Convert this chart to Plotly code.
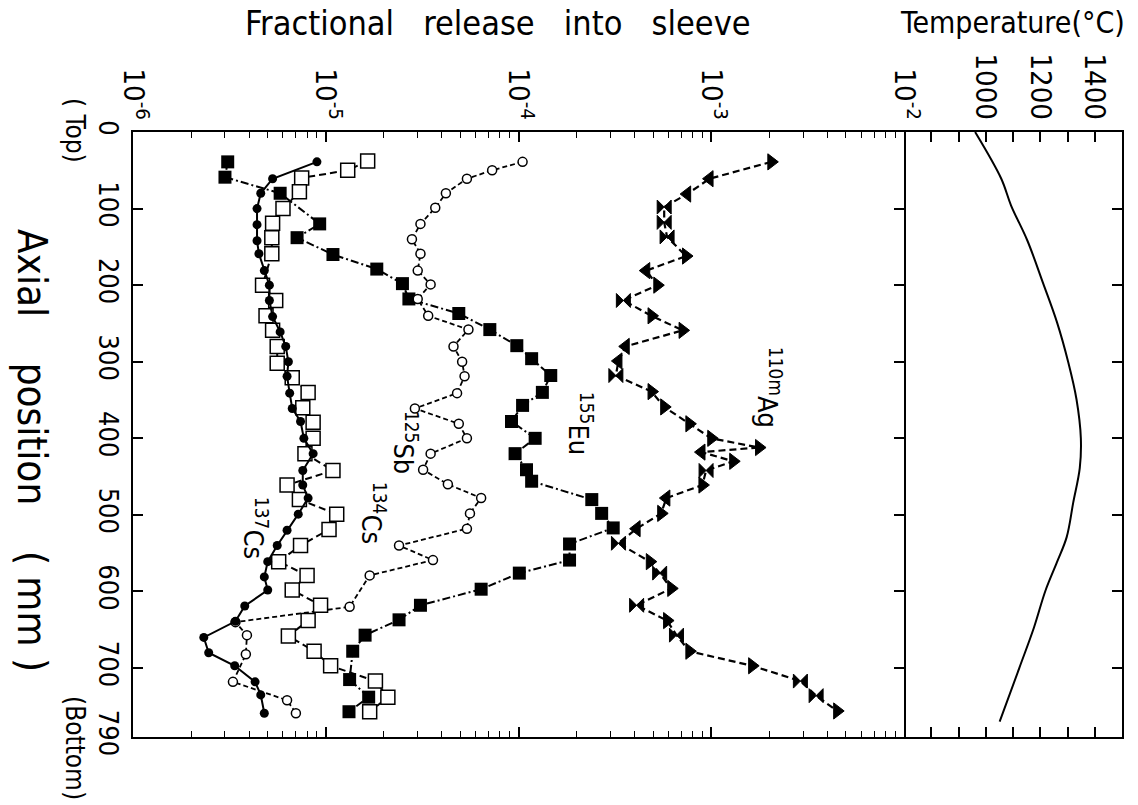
import plotly.graph_objects as go

# ---------------- data ----------------
cs137_pos = [39, 61, 80, 100, 121, 142, 159, 181, 200, 220, 241, 261, 280, 300, 319, 341, 361, 378, 400, 420,
             442, 461, 478, 499, 520, 540, 561, 581, 598, 619, 639, 660, 680, 697, 718, 735, 759]
cs137_val = [9.0e-6, 5.3e-6, 4.6e-6, 4.4e-6, 4.4e-6, 4.4e-6, 4.5e-6, 4.8e-6, 5.1e-6, 5.1e-6, 5.3e-6, 5.8e-6,
             6.2e-6, 6.4e-6, 6.3e-6, 6.5e-6, 6.7e-6, 7.4e-6, 7.7e-6, 8.6e-6, 7.6e-6, 7.6e-6, 8.1e-6, 7.2e-6,
             6.3e-6, 5.6e-6, 5.0e-6, 4.8e-6, 5.0e-6, 3.8e-6, 3.4e-6, 2.33e-6, 2.47e-6, 3.37e-6, 4.3e-6, 4.6e-6, 4.8e-6]

cs134_pos = [38, 50, 60, 78, 100, 119, 138, 159, 200, 220, 240, 259, 280, 302, 321, 340, 360, 379, 400, 420,
             442, 461, 480, 499, 519, 540, 561, 579, 598, 618, 638, 658, 678, 697, 717, 738, 757]
cs134_val = [1.65e-5, 1.30e-5, 7.5e-6, 7.3e-6, 6.0e-6, 5.3e-6, 5.25e-6, 5.25e-6, 4.7e-6, 5.5e-6, 4.9e-6, 5.3e-6,
             5.6e-6, 5.6e-6, 6.7e-6, 8.1e-6, 7.6e-6, 8.6e-6, 8.6e-6, 7.8e-6, 1.09e-5, 6.3e-6, 7.3e-6, 1.14e-5,
             1.04e-5, 7.4e-6, 5.7e-6, 8.0e-6, 6.7e-6, 9.4e-6, 8.1e-6, 6.4e-6, 8.7e-6, 1.06e-5, 1.81e-5, 2.1e-5, 1.69e-5]

sb125_pos = [39, 50, 61, 80, 99, 120, 140, 159, 181, 199, 218, 240, 258, 280, 300, 319, 341, 361, 381, 400,
             420, 441, 460, 478, 498, 518, 540, 559, 579, 620, 640, 657, 682, 718, 742, 759]
sb125_val = [1.05e-4, 7.3e-5, 5.4e-5, 4.2e-5, 3.7e-5, 3.1e-5, 2.8e-5, 3.1e-5, 3.0e-5, 3.5e-5, 3.0e-5, 3.4e-5,
             5.5e-5, 4.6e-5, 5.1e-5, 5.25e-5, 4.8e-5, 2.9e-5, 4.9e-5, 5.4e-5, 3.5e-5, 3.2e-5, 4.3e-5, 6.4e-5,
             5.6e-5, 5.4e-5, 2.4e-5, 3.6e-5, 1.69e-5, 1.33e-5, 3.4e-6, 3.9e-6, 3.85e-6, 3.3e-6, 6.3e-6, 7.0e-6]

eu155_pos = [39, 59, 80, 120, 138, 160, 179, 198, 218, 237, 258, 279, 296, 318, 340, 357, 378, 400, 420, 441,
             456, 480, 498, 517, 538, 559, 576, 597, 618, 637, 657, 678, 715, 738, 757]
eu155_val = [3.1e-6, 3.0e-6, 5.8e-6, 9.3e-6, 7.1e-6, 1.09e-5, 1.84e-5, 2.5e-5, 2.7e-5, 4.9e-5, 7.1e-5, 9.8e-5,
             1.17e-4, 1.47e-4, 1.33e-4, 1.05e-4, 9.2e-5, 1.22e-4, 9.6e-5, 1.1e-4, 1.17e-4, 2.4e-4, 2.7e-4,
             3.1e-4, 1.84e-4, 1.84e-4, 1.01e-4, 6.4e-5, 3.1e-5, 2.4e-5, 1.6e-5, 1.38e-5, 1.33e-5, 1.67e-5, 1.32e-5]

ag110m_pos = [39, 61, 81, 98, 118, 137, 162, 181, 200, 220, 240, 259, 280, 299, 318, 339, 359, 381, 400, 412,
              418, 430, 442, 461, 478, 498, 518, 537, 561, 576, 596, 618, 638, 657, 678, 697, 717, 736, 756]
ag110m_val = [2.05e-3, 9.8e-4, 7.5e-4, 5.7e-4, 5.7e-4, 5.9e-4, 7.4e-4, 4.6e-4, 5.25e-4, 3.5e-4, 4.9e-4, 7.1e-4,
              3.6e-4, 3.3e-4, 3.2e-4, 4.9e-4, 5.7e-4, 7.7e-4, 1.0e-3, 1.77e-3, 8.9e-4, 1.3e-3, 9.4e-4, 9.0e-4,
              5.85e-4, 5.5e-4, 4.1e-4, 3.3e-4, 4.8e-4, 5.4e-4, 6.2e-4, 4.1e-4, 5.9e-4, 6.6e-4, 7.7e-4, 1.63e-3,
              2.9e-3, 3.5e-3, 4.5e-3]

temp_pos = [0, 61, 96, 142, 198, 248, 301, 349, 400, 439, 484, 529, 562, 599, 647, 700, 770]
temp_val = [961, 1057, 1093, 1153, 1211, 1261, 1303, 1333, 1349, 1345, 1321, 1297, 1261, 1219, 1177, 1123, 1051]

release_ticks = [1e-6, 1e-5, 1e-4, 1e-3, 1e-2]
release_ticktext = ["10<sup>-6</sup>", "10<sup>-5</sup>", "10<sup>-4</sup>", "10<sup>-3</sup>", "10<sup>-2</sup>"]
pos_ticks = [0, 100, 200, 300, 400, 500, 600, 700, 790]
temp_ticks = [1000, 1200, 1400]
temp_minor_ticks = [800, 900, 1100, 1300]

# ---------------- styles ----------------
FONT = "DejaVu Sans Condensed, Liberation Sans Narrow, sans-serif"
ag_symbols = ["triangle-right", "triangle-left", "triangle-left", "bowtie", "bowtie", "bowtie", "triangle-right",
              "triangle-left", "triangle-right", "bowtie", "triangle-right", "triangle-right", "triangle-left",
              "triangle-left", "bowtie", "triangle-right", "triangle-right", "triangle-right", "triangle-right",
              "triangle-right", "triangle-left", "triangle-right", "bowtie", "triangle-right", "triangle-left",
              "triangle-right", "triangle-left", "bowtie", "triangle-right", "bowtie", "triangle-right", "bowtie",
              "triangle-right", "bowtie", "triangle-right", "triangle-right", "bowtie", "bowtie", "triangle-right"]

minor_vals = [m * 10.0 ** e for e in range(-6, -2) for m in range(2, 10)]

fig = go.Figure()

fig.add_trace(go.Scatter(x=ag110m_val, y=ag110m_pos, mode="lines+markers",
                         line=dict(color="black", width=2.2, dash="7px,4px"),
                         marker=dict(symbol=ag_symbols, size=14, color="black",
                                     line=dict(color="black", width=1))))
fig.add_trace(go.Scatter(x=eu155_val, y=eu155_pos, mode="lines+markers",
                         line=dict(color="black", width=2, dash="8px,3px,2px,3px"),
                         marker=dict(symbol="square", size=13, color="black")))
fig.add_trace(go.Scatter(x=sb125_val, y=sb125_pos, mode="lines+markers",
                         line=dict(color="black", width=1.8, dash="5px,3px"),
                         marker=dict(symbol="circle", size=9, color="white",
                                     line=dict(color="black", width=1.5))))
fig.add_trace(go.Scatter(x=cs134_val, y=cs134_pos, mode="lines+markers",
                         line=dict(color="black", width=2, dash="7px,4px"),
                         marker=dict(symbol="square", size=14, color="white",
                                     line=dict(color="black", width=1.5))))
fig.add_trace(go.Scatter(x=cs137_val, y=cs137_pos, mode="lines+markers",
                         line=dict(color="black", width=2),
                         marker=dict(symbol="circle", size=9, color="black")))
fig.add_trace(go.Scatter(x=temp_val, y=temp_pos, mode="lines", xaxis="x2", yaxis="y2",
                         line=dict(color="black", width=2, shape="spline")))

L, R, T, B = 133, 16, 132, 68
split = (904 - L) / (1138 - L - R)

axis_common = dict(showline=True, linecolor="black", linewidth=2, showgrid=False, zeroline=False,
                   ticks="inside", tickcolor="black", tickwidth=1.5, ticklen=10, automargin=False)

fig.update_layout(
    width=1138, height=805,
    margin=dict(l=L, r=R, t=T, b=B, autoexpand=False),
    paper_bgcolor="white", plot_bgcolor="white",
    showlegend=False,
    font=dict(family=FONT, color="black", size=26),
    xaxis=dict(type="log", range=[-6, -2], domain=[0, split], side="top", anchor="y", mirror="ticks",
               tickvals=release_ticks, ticktext=release_ticktext, tickangle=90,
               tickfont=dict(size=29),
               minor=dict(ticks="inside", tickvals=minor_vals, ticklen=6, tickcolor="black",
                          tickwidth=1.3, showgrid=False),
               **axis_common),
    yaxis=dict(range=[790, 0], domain=[0, 1], anchor="x", mirror="ticks", tickvals=pos_ticks,
               tickangle=90, tickfont=dict(size=27), **axis_common),
    xaxis2=dict(range=[700, 1500], domain=[split, 1], side="top", anchor="y2", mirror="ticks",
                tickvals=temp_ticks, tickangle=90, tickfont=dict(size=29),
                minor=dict(ticks="inside", tickvals=temp_minor_ticks, ticklen=10, tickcolor="black",
                           tickwidth=1.5, showgrid=False),
                **axis_common),
    yaxis2=dict(range=[790, 0], domain=[0, 1], anchor="x2", side="right", showticklabels=False,
                tickvals=[100, 200, 300, 400, 500, 600, 700], **axis_common),
)

W_PLOT = 1138 - L - R
H_PLOT = 805 - T - B


def px(xp):
    return (xp - L) / W_PLOT


def py(yp):
    return (805 - B - yp) / H_PLOT


annotations = [
    dict(text="Fractional&nbsp;&nbsp; release&nbsp;&nbsp; into&nbsp;&nbsp; sleeve", x=px(498), y=py(23),
         font=dict(size=34), textangle=0),
    dict(text="Temperature(°C)", x=px(1012), y=py(23), font=dict(size=30), textangle=0),
    dict(text="Axial&nbsp;&nbsp;&nbsp; position&nbsp;&nbsp;&nbsp; (&nbsp;mm&nbsp;)", x=px(32), y=py(450),
         font=dict(size=40), textangle=90),
    dict(text="(&nbsp;Top)", x=px(75), y=py(130), font=dict(size=26), textangle=90),
    dict(text="(Bottom)", x=px(75), y=py(748), font=dict(size=26), textangle=90),
    dict(text="<sup>137</sup>Cs", x=px(256), y=py(528), font=dict(size=27), textangle=90),
    dict(text="<sup>134</sup>Cs", x=px(374), y=py(513), font=dict(size=27), textangle=90),
    dict(text="<sup>125</sup>Sb", x=px(406), y=py(442), font=dict(size=27), textangle=90),
    dict(text="<sup>155</sup>Eu", x=px(581), y=py(423), font=dict(size=27), textangle=90),
    dict(text="<sup>110m</sup>Ag", x=px(770), y=py(387), font=dict(size=27), textangle=90),
]
for a in annotations:
    fig.add_annotation(xref="paper", yref="paper", showarrow=False, xanchor="center", yanchor="middle", **a)

fig.write_html("out.html")
